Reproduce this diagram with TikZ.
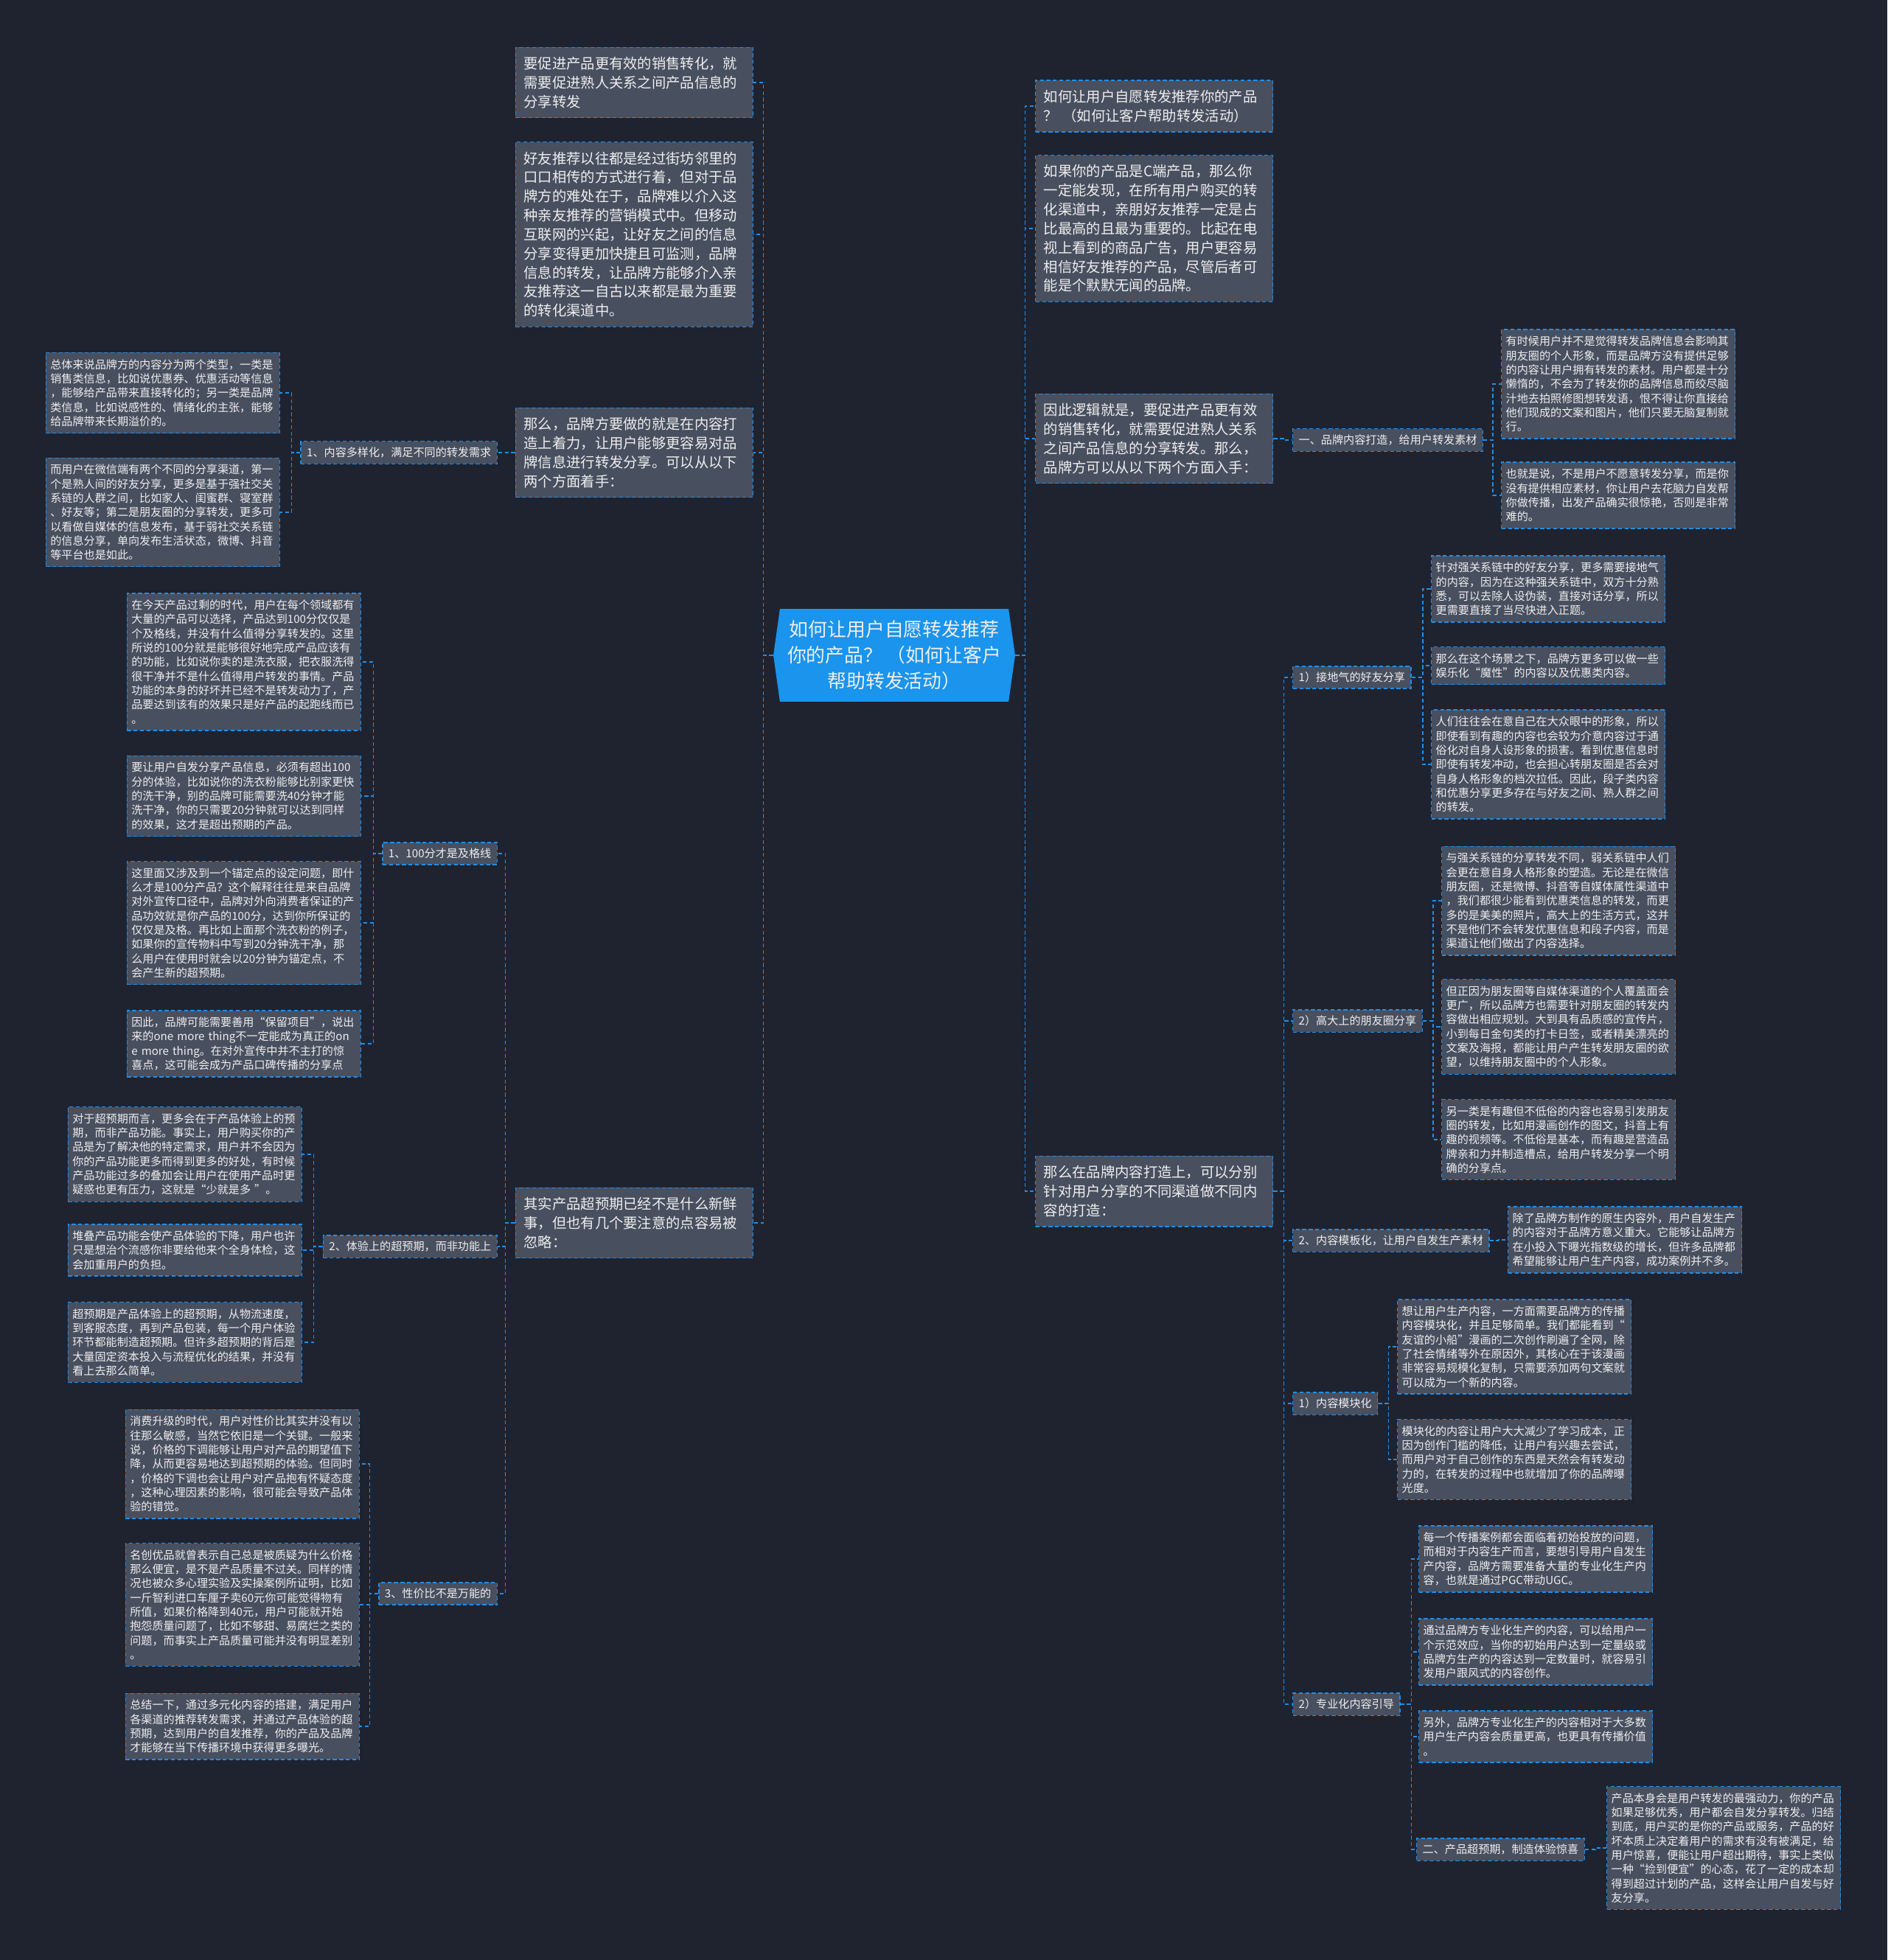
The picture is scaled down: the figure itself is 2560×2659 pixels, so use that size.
\documentclass[tikz,border=0pt]{standalone}
\usepackage{fontspec}
\setmainfont{Noto Sans CJK SC}
\usetikzlibrary{shapes.symbols}

\definecolor{bgcol}{RGB}{31,35,48}
\definecolor{boxcol}{RGB}{72,79,95}
\definecolor{linecol}{RGB}{34,141,230}
\definecolor{hubcol}{RGB}{26,148,236}
\definecolor{txtcol}{RGB}{238,238,238}

\begin{document}
\begin{tikzpicture}[x=0.02cm, y=-0.02cm,
    every node/.style={text=txtcol},
    link/.style={draw=linecol, line width=0.8pt, dash pattern=on 3pt off 2pt},
    hub/.style={shape=signal, signal to=east and west, signal pointer angle=164,
        fill=hubcol, minimum width=6.56cm, minimum height=2.52cm, inner sep=0pt,
        align=center, font=\fontsize{14.7}{19.9}\selectfont},
    bigbox/.style={draw=linecol, dash pattern=on 3pt off 2pt, line width=0.8pt, fill=boxcol,
        text width=6cm, inner xsep=0.22cm, inner ysep=0.26cm, align=left,
        font=\fontsize{11}{14.7}\selectfont},
    smallbox/.style={draw=linecol, dash pattern=on 3pt off 2pt, line width=0.8pt, fill=boxcol,
        text width=6.1cm, inner xsep=0.12cm, inner ysep=0.176cm, align=left,
        font=\fontsize{8.6}{11}\selectfont},
    headbox/.style={draw=linecol, dash pattern=on 3pt off 2pt, line width=0.8pt, fill=boxcol,
        inner xsep=0.16cm, inner ysep=0.16cm, font=\fontsize{8.6}{11}\selectfont}]

    % 背景
    \fill[bgcol] (0,0) rectangle (2560,2659);
    \useasboundingbox (0,0) rectangle (2560,2659);

    % 中心主题
    \node[hub] (hub) at (1213,889) {如何让用户自愿转发推荐\\你的产品？ （如何让客户\\帮助转发活动）};

    % 左侧一级
    \node[bigbox, anchor=east] (A1) at (1022,112) {要促进产品更有效的销售转化，就\\需要促进熟人关系之间产品信息的\\分享转发};
    \node[bigbox, anchor=east] (A2) at (1022,318) {好友推荐以往都是经过街坊邻里的\\口口相传的方式进行着，但对于品\\牌方的难处在于，品牌难以介入这\\种亲友推荐的营销模式中。但移动\\互联网的兴起，让好友之间的信息\\分享变得更加快捷且可监测，品牌\\信息的转发，让品牌方能够介入亲\\友推荐这一自古以来都是最为重要\\的转化渠道中。};
    \node[bigbox, anchor=east] (A3) at (1022,614) {那么，品牌方要做的就是在内容打\\造上着力，让用户能够更容易对品\\牌信息进行转发分享。可以从以下\\两个方面着手：};
    \node[bigbox, anchor=east] (A4) at (1022,1659) {其实产品超预期已经不是什么新鲜\\事，但也有几个要注意的点容易被\\忽略：};

    % 内容多样化
    \node[headbox, anchor=east] (hL1) at (675,614) {1、内容多样化，满足不同的转发需求};
    \node[smallbox, anchor=east] (L1a) at (380,533) {总体来说品牌方的内容分为两个类型，一类是\\销售类信息，比如说优惠券、优惠活动等信息\\，能够给产品带来直接转化的；另一类是品牌\\类信息，比如说感性的、情绪化的主张，能够\\给品牌带来长期溢价的。};
    \node[smallbox, anchor=east] (L1b) at (380,695) {而用户在微信端有两个不同的分享渠道，第一\\个是熟人间的好友分享，更多是基于强社交关\\系链的人群之间，比如家人、闺蜜群、寝室群\\、好友等；第二是朋友圈的分享转发，更多可\\以看做自媒体的信息发布，基于弱社交关系链\\的信息分享，单向发布生活状态，微博、抖音\\等平台也是如此。};

    % 100分
    \node[headbox, anchor=east] (hB1) at (675,1158) {1、100分才是及格线};
    \node[smallbox, anchor=east] (B1a) at (490,898) {在今天产品过剩的时代，用户在每个领域都有\\大量的产品可以选择，产品达到100分仅仅是\\个及格线，并没有什么值得分享转发的。这里\\所说的100分就是能够很好地完成产品应该有\\的功能，比如说你卖的是洗衣服，把衣服洗得\\很干净并不是什么值得用户转发的事情。产品\\功能的本身的好坏并已经不是转发动力了，产\\品要达到该有的效果只是好产品的起跑线而已\\。};
    \node[smallbox, anchor=east] (B1b) at (490,1080) {要让用户自发分享产品信息，必须有超出100\\分的体验，比如说你的洗衣粉能够比别家更快\\的洗干净，别的品牌可能需要洗40分钟才能\\洗干净，你的只需要20分钟就可以达到同样\\的效果，这才是超出预期的产品。};
    \node[smallbox, anchor=east] (B1c) at (490,1252) {这里面又涉及到一个锚定点的设定问题，即什\\么才是100分产品？这个解释往往是来自品牌\\对外宣传口径中，品牌对外向消费者保证的产\\品功效就是你产品的100分，达到你所保证的\\仅仅是及格。再比如上面那个洗衣粉的例子，\\如果你的宣传物料中写到20分钟洗干净，那\\么用户在使用时就会以20分钟为锚定点，不\\会产生新的超预期。};
    \node[smallbox, anchor=east] (B1d) at (490,1416) {因此，品牌可能需要善用“保留项目”，说出\\来的one more thing不一定能成为真正的on\\e more thing。在对外宣传中并不主打的惊\\喜点，这可能会成为产品口碑传播的分享点};

    % 体验超预期
    \node[headbox, anchor=east] (hB2) at (675,1691) {2、体验上的超预期，而非功能上};
    \node[smallbox, anchor=east] (B2a) at (410,1566) {对于超预期而言，更多会在于产品体验上的预\\期，而非产品功能。事实上，用户购买你的产\\品是为了解决他的特定需求，用户并不会因为\\你的产品功能更多而得到更多的好处，有时候\\产品功能过多的叠加会让用户在使用产品时更\\疑惑也更有压力，这就是“少就是多 ”。};
    \node[smallbox, anchor=east] (B2b) at (410,1696) {堆叠产品功能会使产品体验的下降，用户也许\\只是想治个流感你非要给他来个全身体检，这\\会加重用户的负担。};
    \node[smallbox, anchor=east] (B2c) at (410,1821) {超预期是产品体验上的超预期，从物流速度，\\到客服态度，再到产品包装，每一个用户体验\\环节都能制造超预期。但许多超预期的背后是\\大量固定资本投入与流程优化的结果，并没有\\看上去那么简单。};

    % 性价比
    \node[headbox, anchor=east] (hB3) at (675,2162) {3、性价比不是万能的};
    \node[smallbox, anchor=east] (B3a) at (488,1986) {消费升级的时代，用户对性价比其实并没有以\\往那么敏感，当然它依旧是一个关键。一般来\\说，价格的下调能够让用户对产品的期望值下\\降，从而更容易地达到超预期的体验。但同时\\，价格的下调也会让用户对产品抱有怀疑态度\\，这种心理因素的影响，很可能会导致产品体\\验的错觉。};
    \node[smallbox, anchor=east] (B3b) at (488,2177) {名创优品就曾表示自己总是被质疑为什么价格\\那么便宜，是不是产品质量不过关。同样的情\\况也被众多心理实验及实操案例所证明，比如\\一斤智利进口车厘子卖60元你可能觉得物有\\所值，如果价格降到40元，用户可能就开始\\抱怨质量问题了，比如不够甜、易腐烂之类的\\问题，而事实上产品质量可能并没有明显差别\\。};
    \node[smallbox, anchor=east] (B3c) at (488,2342) {总结一下，通过多元化内容的搭建，满足用户\\各渠道的推荐转发需求，并通过产品体验的超\\预期，达到用户的自发推荐，你的产品及品牌\\才能够在当下传播环境中获得更多曝光。};

    % 右侧一级
    \node[bigbox, anchor=west] (R1) at (1404,144) {如何让用户自愿转发推荐你的产品\\？ （如何让客户帮助转发活动）};
    \node[bigbox, anchor=west] (R2) at (1404,310) {如果你的产品是C端产品，那么你\\一定能发现，在所有用户购买的转\\化渠道中，亲朋好友推荐一定是占\\比最高的且最为重要的。比起在电\\视上看到的商品广告，用户更容易\\相信好友推荐的产品，尽管后者可\\能是个默默无闻的品牌。};
    \node[bigbox, anchor=west] (R3) at (1404,595) {因此逻辑就是，要促进产品更有效\\的销售转化，就需要促进熟人关系\\之间产品信息的分享转发。那么，\\品牌方可以从以下两个方面入手：};
    \node[bigbox, anchor=west] (R4) at (1404,1616) {那么在品牌内容打造上，可以分别\\针对用户分享的不同渠道做不同内\\容的打造：};

    % 品牌内容打造
    \node[headbox, anchor=west] (hC) at (1753,597) {一、品牌内容打造，给用户转发素材};
    \node[smallbox, anchor=west] (C1a) at (2036,521) {有时候用户并不是觉得转发品牌信息会影响其\\朋友圈的个人形象，而是品牌方没有提供足够\\的内容让用户拥有转发的素材。用户都是十分\\懒惰的，不会为了转发你的品牌信息而绞尽脑\\汁地去拍照修图想转发语，恨不得让你直接给\\他们现成的文案和图片，他们只要无脑复制就\\行。};
    \node[smallbox, anchor=west] (C1b) at (2036,672) {也就是说，不是用户不愿意转发分享，而是你\\没有提供相应素材，你让用户去花脑力自发帮\\你做传播，出发产品确实很惊艳，否则是非常\\难的。};

    % 好友分享
    \node[headbox, anchor=west] (hD1) at (1753,919) {1）接地气的好友分享};
    \node[smallbox, anchor=west] (D1a) at (1941,799) {针对强关系链中的好友分享，更多需要接地气\\的内容，因为在这种强关系链中，双方十分熟\\悉，可以去除人设伪装，直接对话分享，所以\\更需要直接了当尽快进入正题。};
    \node[smallbox, anchor=west] (D1b) at (1941,903) {那么在这个场景之下，品牌方更多可以做一些\\娱乐化“魔性”的内容以及优惠类内容。};
    \node[smallbox, anchor=west] (D1c) at (1941,1037) {人们往往会在意自己在大众眼中的形象，所以\\即使看到有趣的内容也会较为介意内容过于通\\俗化对自身人设形象的损害。看到优惠信息时\\即使有转发冲动，也会担心转朋友圈是否会对\\自身人格形象的档次拉低。因此，段子类内容\\和优惠分享更多存在与好友之间、熟人群之间\\的转发。};

    % 朋友圈分享
    \node[headbox, anchor=west] (hD2) at (1753,1385) {2）高大上的朋友圈分享};
    \node[smallbox, anchor=west] (D2a) at (1955,1222) {与强关系链的分享转发不同，弱关系链中人们\\会更在意自身人格形象的塑造。无论是在微信\\朋友圈，还是微博、抖音等自媒体属性渠道中\\，我们都很少能看到优惠类信息的转发，而更\\多的是美美的照片，高大上的生活方式，这并\\不是他们不会转发优惠信息和段子内容，而是\\渠道让他们做出了内容选择。};
    \node[smallbox, anchor=west] (D2b) at (1955,1393) {但正因为朋友圈等自媒体渠道的个人覆盖面会\\更广，所以品牌方也需要针对朋友圈的转发内\\容做出相应规划。大到具有品质感的宣传片，\\小到每日金句类的打卡日签，或者精美漂亮的\\文案及海报，都能让用户产生转发朋友圈的欲\\望，以维持朋友圈中的个人形象。};
    \node[smallbox, anchor=west] (D2c) at (1955,1546) {另一类是有趣但不低俗的内容也容易引发朋友\\圈的转发，比如用漫画创作的图文，抖音上有\\趣的视频等。不低俗是基本，而有趣是营造品\\牌亲和力并制造槽点，给用户转发分享一个明\\确的分享点。};

    % 内容模板化
    \node[headbox, anchor=west] (hE) at (1753,1683) {2、内容模板化，让用户自发生产素材};
    \node[smallbox, anchor=west] (E1) at (2045,1682) {除了品牌方制作的原生内容外，用户自发生产\\的内容对于品牌方意义重大。它能够让品牌方\\在小投入下曝光指数级的增长，但许多品牌都\\希望能够让用户生产内容，成功案例并不多。};

    % 内容模块化
    \node[headbox, anchor=west] (hF) at (1753,1904) {1）内容模块化};
    \node[smallbox, anchor=west] (F1a) at (1895,1827) {想让用户生产内容，一方面需要品牌方的传播\\内容模块化，并且足够简单。我们都能看到“\\友谊的小船”漫画的二次创作刷遍了全网，除\\了社会情绪等外在原因外，其核心在于该漫画\\非常容易规模化复制，只需要添加两句文案就\\可以成为一个新的内容。};
    \node[smallbox, anchor=west] (F1b) at (1895,1980) {模块化的内容让用户大大减少了学习成本，正\\因为创作门槛的降低，让用户有兴趣去尝试，\\而用户对于自己创作的东西是天然会有转发动\\力的，在转发的过程中也就增加了你的品牌曝\\光度。};

    % 专业化内容引导
    \node[headbox, anchor=west] (hG) at (1753,2312) {2）专业化内容引导};
    \node[smallbox, anchor=west] (G1) at (1924,2115) {每一个传播案例都会面临着初始投放的问题，\\而相对于内容生产而言，要想引导用户自发生\\产内容，品牌方需要准备大量的专业化生产内\\容，也就是通过PGC带动UGC。};
    \node[smallbox, anchor=west] (G2) at (1924,2241) {通过品牌方专业化生产的内容，可以给用户一\\个示范效应，当你的初始用户达到一定量级或\\品牌方生产的内容达到一定数量时，就容易引\\发用户跟风式的内容创作。};
    \node[smallbox, anchor=west] (G3) at (1924,2356) {另外，品牌方专业化生产的内容相对于大多数\\用户生产内容会质量更高，也更具有传播价值\\。};
    \node[headbox, anchor=west] (hH) at (1921,2509) {二、产品超预期，制造体验惊喜};
    \node[smallbox, anchor=west] (H1) at (2179,2507) {产品本身会是用户转发的最强动力，你的产品\\如果足够优秀，用户都会自发分享转发。归结\\到底，用户买的是你的产品或服务，产品的好\\坏本质上决定着用户的需求有没有被满足，给\\用户惊喜，便能让用户超出期待，事实上类似\\一种“捡到便宜”的心态，花了一定的成本却\\得到超过计划的产品，这样会让用户自发与好\\友分享。};

    % 左侧连线
    \draw[link] (hub.west) -- ++(-13,0) |- (A1.east);
    \draw[link] (hub.west) -- ++(-13,0) |- (A2.east);
    \draw[link] (hub.west) -- ++(-13,0) |- (A3.east);
    \draw[link] (hub.west) -- ++(-13,0) |- (A4.east);
    \draw[link] (A3.west) -- ++(-12,0) |- (hL1.east);
    \draw[link] (hL1.west) -- ++(-12,0) |- (L1a.east);
    \draw[link] (hL1.west) -- ++(-12,0) |- (L1b.east);
    \draw[link] (A4.west) -- ++(-13,0) |- (hB1.east);
    \draw[link] (A4.west) -- ++(-13,0) |- (hB2.east);
    \draw[link] (A4.west) -- ++(-13,0) |- (hB3.east);
    \draw[link] (hB1.west) -- ++(-12,0) |- (B1a.east);
    \draw[link] (hB1.west) -- ++(-12,0) |- (B1b.east);
    \draw[link] (hB1.west) -- ++(-12,0) |- (B1c.east);
    \draw[link] (hB1.west) -- ++(-12,0) |- (B1d.east);
    \draw[link] (hB2.west) -- ++(-12,0) |- (B2a.east);
    \draw[link] (hB2.west) -- ++(-12,0) |- (B2b.east);
    \draw[link] (hB2.west) -- ++(-12,0) |- (B2c.east);
    \draw[link] (hB3.west) -- ++(-12,0) |- (B3a.east);
    \draw[link] (hB3.west) -- ++(-12,0) |- (B3b.east);
    \draw[link] (hB3.west) -- ++(-12,0) |- (B3c.east);

    % 右侧连线
    \draw[link] (hub.east) -- ++(13,0) |- (R1.west);
    \draw[link] (hub.east) -- ++(13,0) |- (R2.west);
    \draw[link] (hub.east) -- ++(13,0) |- (R3.west);
    \draw[link] (hub.east) -- ++(13,0) |- (R4.west);
    \draw[link] (R3.east) -- ++(14,0) |- (hC.west);
    \draw[link] (hC.east) -- ++(13,0) |- (C1a.west);
    \draw[link] (hC.east) -- ++(13,0) |- (C1b.west);
    \draw[link] (R4.east) -- ++(14,0) |- (hD1.west);
    \draw[link] (R4.east) -- ++(14,0) |- (hD2.west);
    \draw[link] (R4.east) -- ++(14,0) |- (hE.west);
    \draw[link] (R4.east) -- ++(14,0) |- (hF.west);
    \draw[link] (R4.east) -- ++(14,0) |- (hG.west);
    \draw[link] (hD1.east) -- ++(15,0) |- (D1a.west);
    \draw[link] (hD1.east) -- ++(15,0) |- (D1b.west);
    \draw[link] (hD1.east) -- ++(15,0) |- (D1c.west);
    \draw[link] (hD2.east) -- ++(14,0) |- (D2a.west);
    \draw[link] (hD2.east) -- ++(14,0) |- (D2b.west);
    \draw[link] (hD2.east) -- ++(14,0) |- (D2c.west);
    \draw[link] (hE.east) -- ++(12,0) |- (E1.west);
    \draw[link] (hF.east) -- ++(14,0) |- (F1a.west);
    \draw[link] (hF.east) -- ++(14,0) |- (F1b.west);
    \draw[link] (hG.east) -- ++(15,0) |- (G1.west);
    \draw[link] (hG.east) -- ++(15,0) |- (G2.west);
    \draw[link] (hG.east) -- ++(15,0) |- (G3.west);
    \draw[link] (hG.east) -- ++(15,0) |- (hH.west);
    \draw[link] (hH.east) -- ++(14,0) |- (H1.west);
\end{tikzpicture}
\end{document}
